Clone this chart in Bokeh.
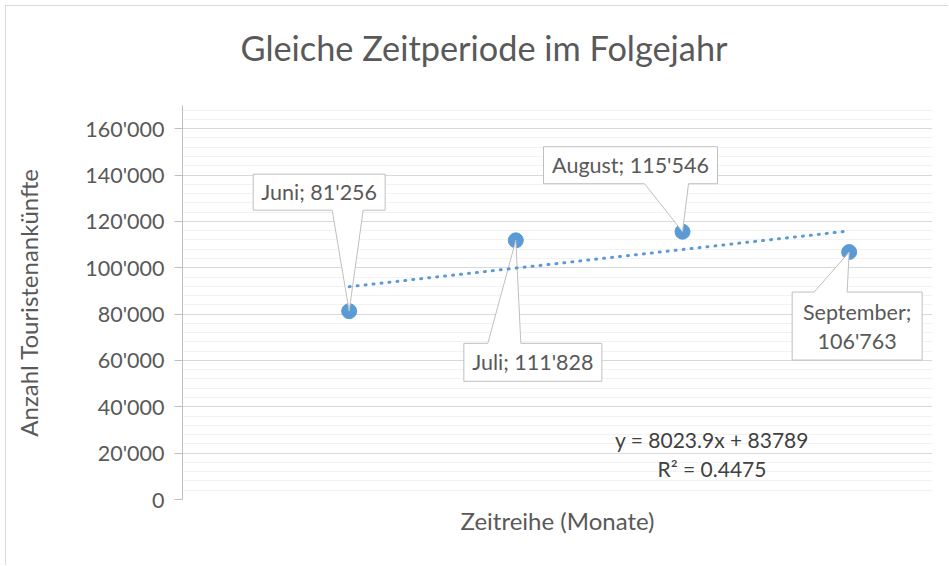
import math
import numpy as np
from bokeh.plotting import figure
from bokeh.models import FixedTicker, Title
from bokeh.core.properties import value
from bokeh.embed import file_html
from bokeh.resources import INLINE

# ---------------- data ----------------
months = ["Juni", "Juli", "August", "September"]
x_vals = [1, 2, 3, 4]
arrivals = [81256, 111828, 115546, 106763]

y_tick_values = [0, 20000, 40000, 60000, 80000, 100000, 120000, 140000, 160000]
y_tick_labels = ["0", "20'000", "40'000", "60'000", "80'000", "100'000",
                 "120'000", "140'000", "160'000"]
y_minor_step = 4000

title_text = "Gleiche Zeitperiode im Folgejahr"
x_label = "Zeitreihe (Monate)"
y_label = "Anzahl Touristenankünfte"

# ---------------- layout ----------------
OFF = 6                                   # page offset of figure content
W, H = 949 - OFF, 566 - OFF
FL, FR, FT, FB = 182 - OFF, 932 - OFF, 105 - OFF, 499 - OFF
X_RANGE = (0, 4.5)
Y_RANGE = (0, 170000)
SX = (FR - FL) / (X_RANGE[1] - X_RANGE[0])
SY = (FB - FT) / (Y_RANGE[1] - Y_RANGE[0])

def fx(px):   # page px -> data x
    return X_RANGE[0] + (px - OFF - FL) / SX

def fy(py):   # page px (from top) -> data y
    return Y_RANGE[0] + (FB - (py - OFF)) / SY

FONT = "Lato"
GREY_TXT = "#595959"
BLUE = "#5b9bd5"

p = figure(width=W, height=H, output_backend="svg", toolbar_location=None,
           x_range=X_RANGE, y_range=Y_RANGE,
           min_border_left=FL, min_border_right=W - FR,
           min_border_top=FT, min_border_bottom=H - FB,
           background_fill_color="white", border_fill_color="white",
           outline_line_color=None)
p.styles = {"border-left": "1px solid #d9d9d9", "border-top": "1px solid #d9d9d9",
            "margin-left": "5px", "margin-top": "5px"}

# spacer between frame and title, then the title itself
p.add_layout(Title(text=" ", text_font_size="1px", standoff=35), "above")
p.add_layout(Title(text=title_text, align="left", offset=58, standoff=0,
                   text_font=FONT, text_font_size="34.3px", text_color=GREY_TXT,
                   text_font_style="normal"), "above")

minor = [v for v in range(0, 170001, y_minor_step) if v not in y_tick_values]
p.yaxis.ticker = FixedTicker(ticks=y_tick_values, minor_ticks=minor)
p.yaxis.major_label_overrides = {v: s for v, s in zip(y_tick_values, y_tick_labels)}
p.yaxis.axis_line_color = "#bfbfbf"
p.yaxis.major_tick_line_color = "#bfbfbf"
p.yaxis.major_tick_out = 8
p.yaxis.major_tick_in = 0
p.yaxis.minor_tick_line_color = None
p.yaxis.major_label_text_font = FONT
p.yaxis.major_label_text_font_size = "21.5px"
p.yaxis.major_label_text_color = GREY_TXT
p.yaxis.major_label_standoff = 10
p.yaxis.axis_label = y_label
p.yaxis.axis_label_text_font = FONT
p.yaxis.axis_label_text_font_size = "24px"
p.yaxis.axis_label_text_font_style = "normal"
p.yaxis.axis_label_text_color = GREY_TXT
p.yaxis.axis_label_standoff = 39

p.xaxis.ticker = FixedTicker(ticks=[])
p.xaxis.axis_line_color = None
p.xaxis.major_tick_line_color = None
p.xaxis.minor_tick_line_color = None
p.xaxis.axis_label = x_label
p.xaxis.axis_label_text_font = FONT
p.xaxis.axis_label_text_font_size = "24px"
p.xaxis.axis_label_text_font_style = "normal"
p.xaxis.axis_label_text_color = GREY_TXT
p.xaxis.axis_label_standoff = 6

p.xgrid.grid_line_color = None
p.ygrid.grid_line_color = "#d9d9d9"
p.ygrid.minor_grid_line_color = "#f2f2f2"

# points
p.scatter(x_vals, arrivals, size=15, fill_color=BLUE, line_color=BLUE)

# callouts: box offsets relative to the point in pixels (left, right, top, bottom),
# wedge base x offsets (a, b)
callouts = [
    dict(box=(-96, 36, -137, -101), wedge=(-17, 14), lines=1),
    dict(box=(-52, 86, 103, 141), wedge=(-28, 5), lines=1),
    dict(box=(-139, 35, -85, -48), wedge=(-38, 6), lines=1),
    dict(box=(-57, 73, 40, 108), wedge=(-35, -2), lines=2),
]

xs_p, ys_p = [], []
tx_, ty_, tt_ = [], [], []
for m, xv, yv, c in zip(months, x_vals, arrivals, callouts):
    px = FL + (xv - X_RANGE[0]) * SX
    py = FB - (yv - Y_RANGE[0]) * SY
    l, r, t, b = c["box"]
    a, bb = c["wedge"]
    if t < 0:   # box above point, wedge from bottom edge
        pts = [(l, t), (r, t), (r, b), (bb, b), (0, 0), (a, b), (l, b)]
    else:       # box below point, wedge from top edge
        pts = [(l, t), (a, t), (0, 0), (bb, t), (r, t), (r, b), (l, b)]
    xs_p.append([fx(px + dx + OFF) for dx, dy in pts])
    ys_p.append([fy(py + dy + OFF) for dx, dy in pts])
    val = f"{yv:,}".replace(",", "'")
    cx = px + (l + r) / 2 + OFF
    cy = py + (t + b) / 2 + OFF
    if c["lines"] == 2:
        for txt, off in ((f"{m};", -14.5), (val, 14.5)):
            tx_.append(fx(cx)); ty_.append(fy(cy + off)); tt_.append(txt)
    else:
        tx_.append(fx(cx)); ty_.append(fy(cy)); tt_.append(f"{m}; {val}")

p.patches(xs_p, ys_p, fill_color="white", line_color="#bfbfbf", line_width=1)

# trendline (least squares), drawn above the callout pointers
xa = np.array(x_vals, dtype=float)
ya = np.array(arrivals, dtype=float)
slope, intercept = np.polyfit(xa, ya, 1)
pred = slope * xa + intercept
r2 = 1 - np.sum((ya - pred) ** 2) / np.sum((ya - ya.mean()) ** 2)
tx = np.array([xa.min(), xa.max()])
p.line(tx, slope * tx + intercept, line_color=BLUE, line_width=3,
       line_dash="1 7", line_cap="round")

p.text(tx_, ty_, text=tt_, text_font=value(FONT), text_font_size="21.5px",
       text_color=GREY_TXT, text_align="center", text_baseline="middle")

# trendline equation
b_round = math.floor(intercept + 0.5)
eq1 = f"y = {slope:.1f}x + {b_round}"
eq2 = f"R² = {r2:.4f}"
p.text([fx(711.5), fx(711.5)], [fy(439.3), fy(468.3)], text=[eq1, eq2],
       text_font=value(FONT), text_font_size="21px", text_color="#404040",
       text_align="center", text_baseline="middle")

open("out.html", "w").write(file_html(p, INLINE))
